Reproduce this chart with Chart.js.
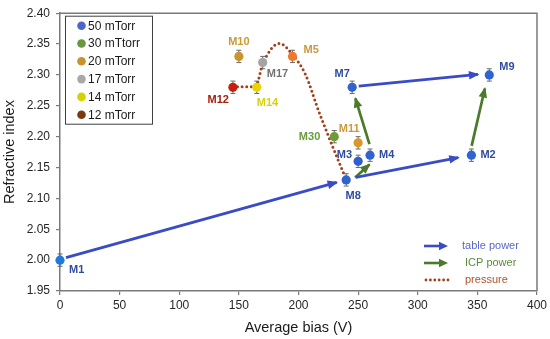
<!DOCTYPE html>
<html><head><meta charset="utf-8">
<script src="https://cdn.jsdelivr.net/npm/chart.js@4"></script>
<style>html,body{margin:0;padding:0;background:#fff}#wrap{width:550px;height:339px}</style>
</head><body><div id="wrap"><canvas id="c" width="550" height="339"></canvas></div>
<script>
// ---------- data ----------
const names50 = ['M1','M8','M3','M4','M2','M7','M9'];
const bias50  = [0, 240, 250, 260, 345, 245, 360];
const ri50    = [2.00, 2.13, 2.16, 2.17, 2.17, 2.28, 2.30];
const names30 = ['M30'];
const bias30  = [230];
const ri30    = [2.20];
const names20 = ['M10','M11','M5'];
const bias20  = [150, 250, 195];
const ri20    = [2.33, 2.19, 2.33];
const names17 = ['M17'];
const bias17  = [170];
const ri17    = [2.32];
const names14 = ['M14'];
const bias14  = [165];
const ri14    = [2.28];
const names12 = ['M12'];
const bias12  = [145];
const ri12    = [2.28];
const errRI = 0.01;

const legendLabels = ['50 mTorr','30 mTtorr','20 mTorr','17 mTorr','14 mTorr','12 mTorr'];

// arrows: [x0,y0,x1,y1] in data units
const tableArrows = [[5,2.004,232,2.126],[248,2.134,334,2.166],[250.5,2.282,350.5,2.301]];
const icpArrows   = [[247.5,2.134,259.5,2.155],[259.5,2.188,247.7,2.262],[345.2,2.185,356.3,2.278]];
// pressure path
const pressureX = [145, 164, 170, 184, 195, 206, 217, 228, 238];
const pressureY = [2.281, 2.281, 2.318, 2.351, 2.333, 2.300, 2.241, 2.187, 2.140];

const xTicks = [0,50,100,150,200,250,300,350,400];
const yTicks = [1.95,2.00,2.05,2.10,2.15,2.20,2.25,2.30,2.35,2.40];

// ---------- styles ----------
const pts = (xs, ys) => xs.map((x,i)=>({x, y: ys[i]}));
const groups = [
  {names:names50, data:pts(bias50,ri50), colors:['#1f7bd9','#2f63d0','#2f5fcf','#2f63d0','#2f63d0','#2f63d0','#2f63d0'], label:'#2f4c9e', legend:'#4a66c8'},
  {names:names30, data:pts(bias30,ri30), colors:['#6e9a3a'], label:'#6a9a3e', legend:'#6a963c'},
  {names:names20, data:pts(bias20,ri20), colors:['#c8962c','#d8962c','#ec7a2c'], label:'#c9993c', legend:'#c8922c'},
  {names:names17, data:pts(bias17,ri17), colors:['#a4a4a4'], label:'#727272', legend:'#a8a8a8'},
  {names:names14, data:pts(bias14,ri14), colors:['#e6d600'], label:'#d8d010', legend:'#d8d000'},
  {names:names12, data:pts(bias12,ri12), colors:['#c81e0c'], label:'#a3200e', legend:'#7a3a10'}
];
const labelPos = {
  M1:[9,10,'left'], M8:[7,16,'center'], M3:[-6,-6,'right'], M4:[9,0,'left'], M2:[9,0,'left'],
  M7:[-10,-13,'center'], M9:[10,-8,'left'], M30:[-14,0,'right'], M10:[0,-14,'center'],
  M11:[-9,-14,'center'], M5:[11,-6,'left'], M17:[4,11,'left'], M14:[0,16,'left'], M12:[-4,13,'right']
};
const BLUE='#3a4cc4', GREEN='#4b7a2a', PRESS='#a2401c';

const datasets = [];
groups.forEach(g=>{
  datasets.push({type:'scatter', data:g.data, pointRadius:4.6, pointHoverRadius:4.6, clip:false,
    pointBackgroundColor:g.colors, pointBorderWidth:0, grp:g});
});
tableArrows.forEach(a=>datasets.push({type:'line', data:[{x:a[0],y:a[1]},{x:a[2],y:a[3]}], borderColor:BLUE, borderWidth:2.7, pointRadius:0, arrow:true}));
icpArrows.forEach(a=>datasets.push({type:'line', data:[{x:a[0],y:a[1]},{x:a[2],y:a[3]}], borderColor:GREEN, borderWidth:2.7, pointRadius:0, arrow:true}));
datasets.push({type:'line', data:pts(pressureX,pressureY), borderColor:PRESS, borderWidth:3, borderDash:[0,4.6], borderCapStyle:'round', cubicInterpolationMode:'monotone', pointRadius:0});

const FONT = 'Liberation Sans, Arial, sans-serif';

const plugin = {
  id:'extras',
  beforeDatasetsDraw(chart){
    const ctx=chart.ctx, xs=chart.scales.x, ys=chart.scales.y;
    ctx.save();
    ctx.strokeStyle='#6a6a6a'; ctx.lineWidth=1;
    groups.forEach(g=>g.data.forEach(p=>{
      const px=xs.getPixelForValue(p.x), y1=ys.getPixelForValue(p.y+errRI), y2=ys.getPixelForValue(p.y-errRI);
      ctx.beginPath(); ctx.moveTo(px,y1); ctx.lineTo(px,y2);
      ctx.moveTo(px-2.5,y1); ctx.lineTo(px+2.5,y1);
      ctx.moveTo(px-2.5,y2); ctx.lineTo(px+2.5,y2); ctx.stroke();
    }));
    ctx.restore();
  },
  afterDatasetsDraw(chart){
    const ctx=chart.ctx, xs=chart.scales.x, ys=chart.scales.y, ca=chart.chartArea;
    ctx.save();
    // arrow heads
    chart.data.datasets.forEach(ds=>{
      if(!ds.arrow) return;
      const a=ds.data[0], b=ds.data[1];
      const x0=xs.getPixelForValue(a.x), y0=ys.getPixelForValue(a.y), x1=xs.getPixelForValue(b.x), y1=ys.getPixelForValue(b.y);
      const ang=Math.atan2(y1-y0,x1-x0), L=9, W=4.3;
      ctx.fillStyle=ds.borderColor; ctx.beginPath();
      ctx.moveTo(x1+Math.cos(ang)*1.5,y1+Math.sin(ang)*1.5);
      ctx.lineTo(x1-L*Math.cos(ang)+W*Math.sin(ang), y1-L*Math.sin(ang)-W*Math.cos(ang));
      ctx.lineTo(x1-L*Math.cos(ang)-W*Math.sin(ang), y1-L*Math.sin(ang)+W*Math.cos(ang));
      ctx.closePath(); ctx.fill();
    });
    // point labels
    ctx.font='bold 11px '+FONT; ctx.textBaseline='middle';
    groups.forEach(g=>g.data.forEach((p,i)=>{
      const n=g.names[i], lp=labelPos[n];
      ctx.fillStyle=g.label; ctx.textAlign=lp[2];
      ctx.fillText(n, xs.getPixelForValue(p.x)+lp[0], ys.getPixelForValue(p.y)+lp[1]);
    }));
    // frame
    ctx.strokeStyle='#7a7a7a'; ctx.lineWidth=1.5;
    ctx.beginPath(); ctx.moveTo(ca.left,ca.top); ctx.lineTo(ca.right,ca.top); ctx.lineTo(ca.right,ca.bottom); ctx.stroke();
    // legend box (top-left)
    const bx=ca.left+5, by=ca.top+2.5, bw=87, bh=108;
    ctx.fillStyle='#fff'; ctx.fillRect(bx,by,bw,bh);
    ctx.strokeStyle='#404040'; ctx.lineWidth=1; ctx.strokeRect(bx+0.5,by+0.5,bw,bh);
    ctx.font='12px '+FONT; ctx.textAlign='left';
    legendLabels.forEach((t,i)=>{
      const yy=by+10+i*17.8;
      ctx.fillStyle=groups[i].legend; ctx.beginPath(); ctx.arc(bx+16.5,yy,4.3,0,Math.PI*2); ctx.fill();
      ctx.fillStyle='#1a1a1a'; ctx.fillText(t,bx+23,yy+0.5);
    });
    // legend (bottom-right)
    const lx=ca.right-113, ly=ca.bottom-45;
    const items=[['table power',BLUE,'#5868cc',0],['ICP power',GREEN,'#5b8a3e',3],['pressure',PRESS,'#b0522a',3]];
    ctx.font='11px '+FONT;
    items.forEach((it,i)=>{
      const yy=ly+i*17;
      if(i<2){
        ctx.strokeStyle=it[1]; ctx.lineWidth=2.6; ctx.beginPath(); ctx.moveTo(lx,yy); ctx.lineTo(lx+16,yy); ctx.stroke();
        ctx.fillStyle=it[1]; ctx.beginPath(); ctx.moveTo(lx+24,yy); ctx.lineTo(lx+15,yy-4.2); ctx.lineTo(lx+15,yy+4.2); ctx.closePath(); ctx.fill();
      } else {
        ctx.fillStyle=it[1];
        for(let k=0;k<6;k++){ctx.beginPath(); ctx.arc(lx+2+k*4.4,yy,1.4,0,Math.PI*2); ctx.fill();}
      }
      ctx.fillStyle=it[2]; ctx.fillText(it[0], lx+38+it[3], yy);
    });
    ctx.restore();
  }
};

new Chart(document.getElementById('c'), {
  data:{datasets},
  options:{
    responsive:false, animation:false, devicePixelRatio:1,
    layout:{padding:{top:11,right:12,left:0,bottom:0}},
    plugins:{legend:{display:false}, tooltip:{enabled:false}},
    scales:{
      x:{type:'linear', min:0, max:400,
        afterBuildTicks:s=>{s.ticks=xTicks.map(v=>({value:v}));},
        afterFit:s=>{s.height=48;},
        grid:{drawOnChartArea:false, tickLength:4, color:'#7a7a7a', lineWidth:1.2},
        border:{color:'#7a7a7a', width:1.5},
        ticks:{color:'#262626', font:{family:FONT,size:12}, padding:3, maxRotation:0},
        title:{display:true, text:'Average bias (V)', color:'#1a1a1a', font:{family:FONT,size:14.5}, padding:{top:2,bottom:2}}
      },
      y:{type:'linear', min:1.95, max:2.40,
        afterBuildTicks:s=>{s.ticks=yTicks.map(v=>({value:v}));},
        afterFit:s=>{s.width=60;},
        grid:{drawOnChartArea:false, tickLength:4, color:'#7a7a7a', lineWidth:1.2},
        border:{color:'#7a7a7a', width:1.5},
        ticks:{color:'#262626', font:{family:FONT,size:12}, padding:6, callback:v=>v.toFixed(2)},
        title:{display:true, text:'Refractive index', color:'#1a1a1a', font:{family:FONT,size:14.5}, padding:{top:1,bottom:0}}
      }
    }
  },
  plugins:[plugin]
});
</script></body></html>
